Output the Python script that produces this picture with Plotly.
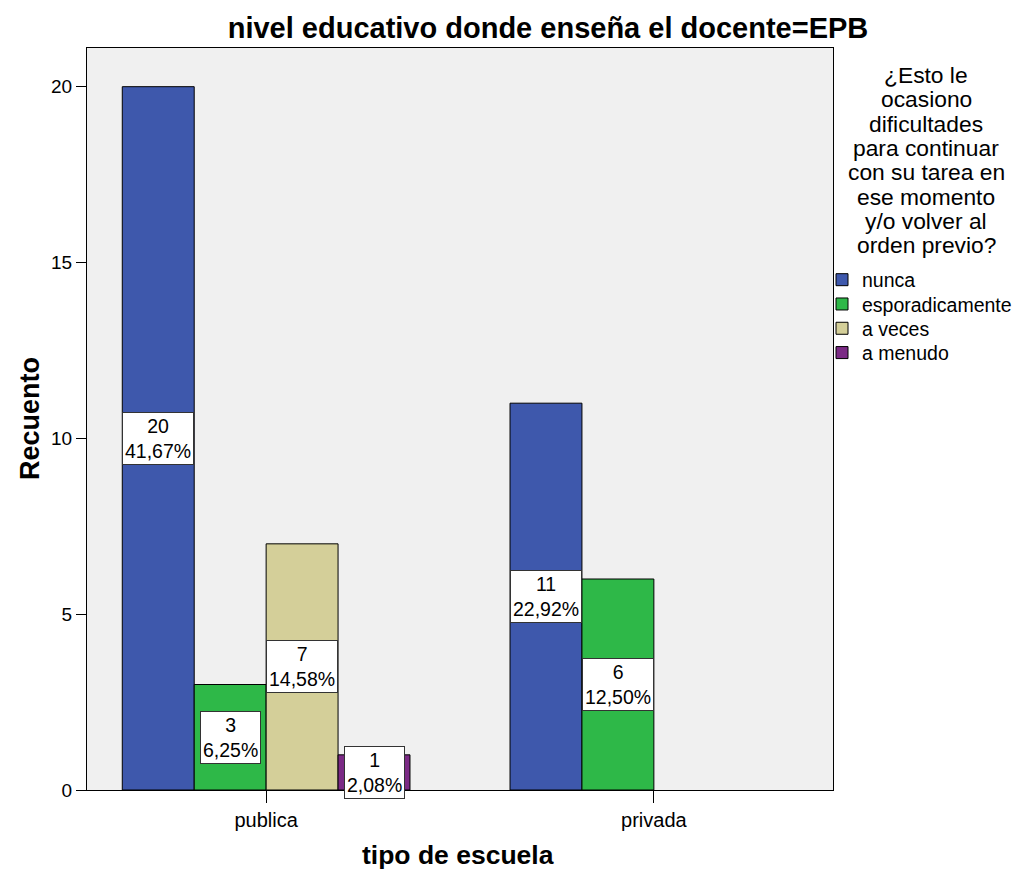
import plotly.graph_objects as go

categories = ["publica", "privada"]
series_names = ["nunca", "esporadicamente", "a veces", "a menudo"]
nunca = [20, 11]
esporadicamente = [3, 6]
a_veces = [7, None]
a_menudo = [1, None]
colors = ["#3E58AC", "#2EB848", "#D4CF99", "#7B2A85"]
y_ticks = [0, 5, 10, 15, 20]
legend_title_lines = ["¿Esto le", "ocasiono", "dificultades", "para continuar",
                      "con su tarea en", "ese momento", "y/o volver al", "orden previo?"]

series = [nunca, esporadicamente, a_veces, a_menudo]
total = sum(v for s in series for v in s if v is not None)

FONT = "Liberation Sans, Arial, sans-serif"
bargap = 0.258
slot = (1 - bargap) / len(series)
PLOT_L, PLOT_R, PLOT_T, PLOT_B = 87, 833, 48, 790
PW, PH = PLOT_R - PLOT_L, PLOT_B - PLOT_T

fig = go.Figure()
legend_names = ["legend", "legend2", "legend3", "legend4"]
for name, vals, col, lg in zip(series_names, series, colors, legend_names):
    fig.add_trace(go.Bar(
        x=categories, y=vals, name=name, legend=lg, showlegend=True,
        marker=dict(color=col, line=dict(color="black", width=1)),
    ))

annotations = []
for k, vals in enumerate(series):
    for ci, v in enumerate(vals):
        if v is None:
            continue
        pct = f"{100 * v / total:.2f}".replace(".", ",") + "%"
        annotations.append(dict(
            x=ci + (k - (len(series) - 1) / 2) * slot, y=v / 2,
            xref="x", yref="y",
            text=f"{v}<br>{pct}", showarrow=False,
            font=dict(family=FONT, size=19.5, color="black"),
            bgcolor="white", bordercolor="#333333", borderwidth=1,
            borderpad=2,
        ))

# legend title lines (tight line spacing)
for i, line in enumerate(legend_title_lines):
    annotations.append(dict(
        x=(926 - PLOT_L) / PW, y=1, xref="paper", yref="paper",
        xanchor="center", yanchor="middle", yshift=-(75 - PLOT_T) - i * 24.3,
        text=line, showarrow=False,
        font=dict(family=FONT, size=22.8, color="black"),
    ))

# axis titles
annotations.append(dict(
    x=(458 - PLOT_L) / PW, y=0, xref="paper", yref="paper",
    xanchor="center", yanchor="middle", yshift=-(855 - PLOT_B),
    text="<b>tipo de escuela</b>", showarrow=False,
    font=dict(family=FONT, size=26.5, color="black"),
))
annotations.append(dict(
    x=0, y=(PLOT_B - 419) / PH, xref="paper", yref="paper",
    xanchor="center", yanchor="middle", xshift=-(PLOT_L - 30), textangle=-90,
    text="<b>Recuento</b>", showarrow=False,
    font=dict(family=FONT, size=27, color="black"),
))

legend_common = dict(
    xanchor="left", yanchor="middle", visible=True,
    font=dict(family=FONT, size=19.5, color="black"),
    bgcolor="rgba(0,0,0,0)", itemwidth=30, borderwidth=0,
)
legends = {}
for i, lg in enumerate(legend_names):
    legends[lg] = dict(
        x=(822 - PLOT_L) / PW, y=(PLOT_B - (280 + i * 24.3)) / PH, **legend_common)

fig.update_layout(
    width=1013, height=870, showlegend=True,
    margin=dict(l=PLOT_L, r=1013 - PLOT_R, t=PLOT_T, b=870 - PLOT_B, autoexpand=False),
    paper_bgcolor="white", plot_bgcolor="#F0F0F0",
    barmode="group", bargap=bargap, bargroupgap=0,
    font=dict(family=FONT, size=16, color="black"),
    title=dict(
        text="<b>nivel educativo donde enseña el docente=EPB</b>",
        x=548 / 1013, xanchor="center", xref="container", y=1 - 28 / 870, yanchor="middle",
        yref="container",
        font=dict(family=FONT, size=29, color="black"),
    ),
    annotations=annotations,
    xaxis=dict(
        type="category", range=[-0.462, 1.462],
        showline=True, linecolor="black", linewidth=1, mirror=True,
        ticks="outside", ticklen=12, tickcolor="black",
        tickfont=dict(family=FONT, size=20),
        showgrid=False, automargin=False,
    ),
    yaxis=dict(
        range=[0, 21.1], tickvals=y_ticks,
        showline=True, linecolor="black", linewidth=1, mirror=True,
        ticks="outside", ticklen=10, tickcolor="black",
        tickfont=dict(family=FONT, size=19),
        showgrid=False, zeroline=True, zerolinecolor="black", zerolinewidth=1,
        automargin=False,
    ),
    **legends,
)

fig.write_html("out.html", config={"displayModeBar": False},
               post_script="document.body.style.margin='0px';")
